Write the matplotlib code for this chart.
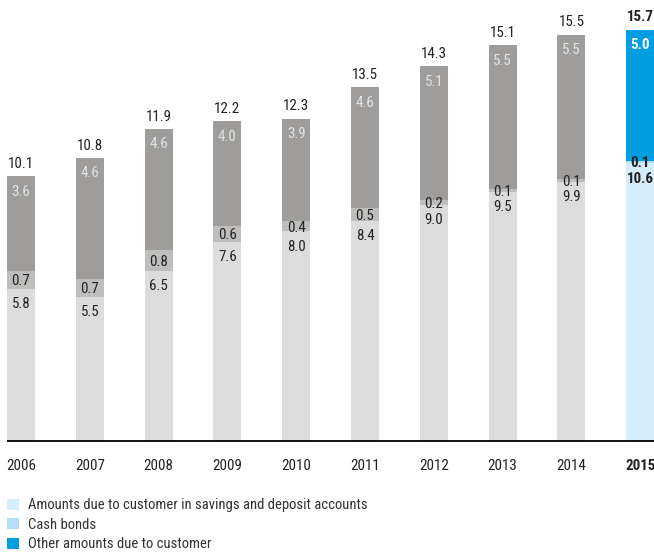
import matplotlib

matplotlib.use("Agg")
import matplotlib.pyplot as plt
from matplotlib.patches import Patch

years = ["2006", "2007", "2008", "2009", "2010", "2011", "2012", "2013", "2014", "2015"]
savings = [5.8, 5.5, 6.5, 7.6, 8.0, 8.4, 9.0, 9.5, 9.9, 10.6]
cash_bonds = [0.7, 0.7, 0.8, 0.6, 0.4, 0.5, 0.2, 0.1, 0.1, 0.1]
other = [3.6, 4.6, 4.6, 4.0, 3.9, 4.6, 5.1, 5.5, 5.5, 5.0]
totals = [10.1, 10.8, 11.9, 12.2, 12.3, 13.5, 14.3, 15.1, 15.5, 15.7]
legend_labels = ["Amounts due to customer in savings and deposit accounts",
                 "Cash bonds",
                 "Other amounts due to customer"]

GREY = ["#dcdcdc", "#bfbebd", "#9e9d9c"]
BLUE = ["#d6edfb", "#b3def5", "#009ee0"]
TXT = "#222222"

plt.rcParams["font.family"] = ["Roboto Condensed", "Asap Condensed", "DejaVu Sans"]

W, H = 654, 553
fig = plt.figure(figsize=(W / 100, H / 100), dpi=100)
# axes spans full width; baseline 112 px from the bottom
ax = fig.add_axes([0, 112 / H, 1, 441 / H])
step = 68.8
ax.set_xlim(-21 / step, (W - 21) / step)
ax.set_ylim(0, 441 / 26.2)
ax.axis("off")

bw = 28 / step
last = len(years) - 1
for i, y in enumerate(years):
    cols = BLUE if i == last else GREY
    fw = "bold" if i == last else "normal"
    ax.bar(i, savings[i], bw, color=cols[0], lw=0)
    ax.bar(i, cash_bonds[i], bw, bottom=savings[i], color=cols[1], lw=0)
    ax.bar(i, other[i], bw, bottom=savings[i] + cash_bonds[i], color=cols[2], lw=0)
    top = savings[i] + cash_bonds[i] + other[i]
    kw = dict(ha="center", va="center", fontsize=10.8, fontweight=fw,
              textcoords="offset points")
    ax.annotate(f"{totals[i]:.1f}", (i, top), xytext=(0, 9), color=TXT, **kw)
    ax.annotate(f"{other[i]:.1f}", (i, top), xytext=(0, -11),
                color="white" if i == last else "#e4e4e4", **kw)
    ax.annotate(f"{cash_bonds[i]:.1f}", (i, savings[i] + cash_bonds[i] / 2),
                xytext=(0, -1), color=TXT, **kw)
    ax.annotate(f"{savings[i]:.1f}", (i, savings[i]), xytext=(0, -11),
                color=TXT, **kw)
    ax.annotate(y, (i, 0), xytext=(0, -18), color=TXT, **kw)

# baseline
ax.plot([-0.5 * bw, ax.get_xlim()[1]], [0, 0], color="black", lw=1.3,
        clip_on=False, solid_capstyle="butt")

handles = [Patch(facecolor=c, edgecolor="none") for c in BLUE]
fig.legend(handles, legend_labels, loc="upper left",
           bbox_to_anchor=(3 / W, 1 - 494 / H), frameon=False, fontsize=10.5,
           handlelength=0.8, handleheight=0.8, handletextpad=0.6,
           labelspacing=0.38, borderaxespad=0, borderpad=0.3,
           labelcolor="#333333")

fig.savefig("out.png", dpi=100)
